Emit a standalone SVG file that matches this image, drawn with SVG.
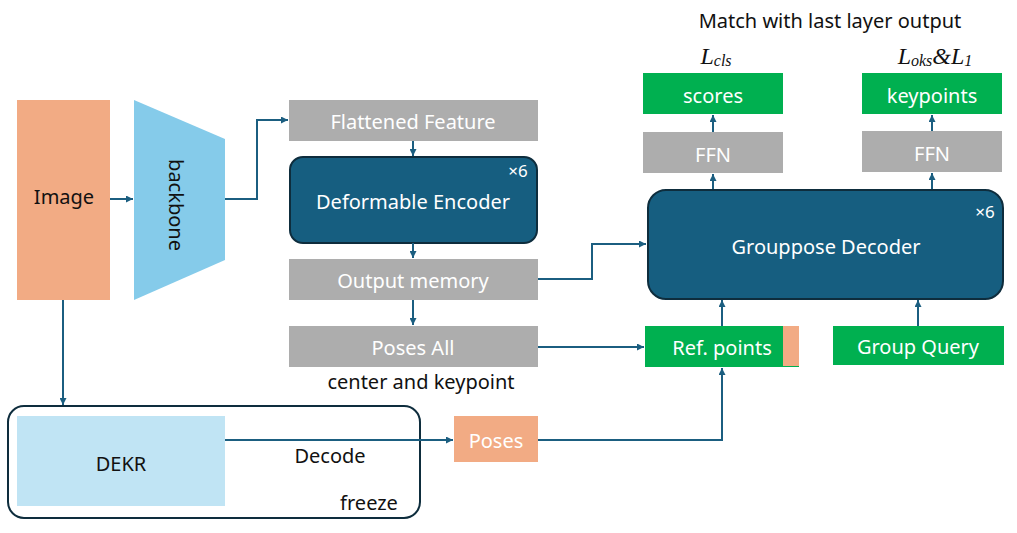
<svg xmlns="http://www.w3.org/2000/svg" width="1017" height="533" viewBox="0 0 1017 533">
<defs>
<marker id="ah" viewBox="0 0 10 10" refX="10" refY="5" markerWidth="7" markerHeight="7" markerUnits="userSpaceOnUse" orient="auto"><path d="M0,0 L10,5 L0,10 z" fill="#1B5E80"/></marker>
<style>
text{font-family:"Noto Sans","Open Sans","DejaVu Sans",sans-serif;font-size:20px;text-anchor:middle;dominant-baseline:central}
.w{fill:#fff}
.k{fill:#111}
.gray{fill:#ADADAD}
.green{fill:#00B050}
.salmon{fill:#F2AB84}
.dark{fill:#165E80;stroke:#0E2D3D;stroke-width:2}
.math{font-family:"Liberation Serif","DejaVu Serif",serif;font-style:italic;font-size:24px}
.sub{font-size:16px}
.conn path{fill:none;stroke:#1B5E80;stroke-width:2;marker-end:url(#ah)}
</style>
</defs>
<rect width="1017" height="533" fill="#fff"/>

<g id="image"><rect class="salmon" x="17" y="100" width="93" height="200"/><text class="k" x="64" y="196">Image</text></g>
<g id="backbone"><polygon points="134,100 225,139 225,260 134,300" fill="#85CBEA"/><text class="k" transform="translate(176,205) rotate(90)">backbone</text></g>

<g id="flattened"><rect class="gray" x="289" y="100" width="249" height="41"/><text class="w" x="413" y="121">Flattened Feature</text></g>
<g id="encoder"><rect class="dark" x="290" y="157" width="247" height="86" rx="13"/><text class="w" x="413" y="201">Deformable Encoder</text><text class="w" x="518" y="170" style="font-size:17px">×6</text></g>
<g id="memory"><rect class="gray" x="289" y="259" width="249" height="41"/><text class="w" x="413" y="280">Output memory</text></g>
<g id="posesall"><rect class="gray" x="289" y="326" width="249" height="41"/><text class="w" x="413" y="347">Poses All</text><text class="k" x="421" y="381">center and keypoint</text></g>

<g id="freeze"><rect x="8" y="406" width="412" height="112" rx="16" fill="none" stroke="#0E2D3D" stroke-width="2"/><text class="k" x="369" y="502">freeze</text></g>
<g id="dekr"><rect x="17" y="416" width="208" height="90" fill="#C0E4F4"/><text class="k" x="121" y="463">DEKR</text></g>
<g id="poses"><rect class="salmon" x="454" y="416" width="84" height="46"/><text class="w" x="496" y="440">Poses</text></g>

<g id="refpoints"><rect class="green" x="645" y="326" width="154" height="41"/><rect class="salmon" x="783" y="326" width="16" height="40"/><text class="w" x="722" y="347">Ref. points</text></g>
<g id="groupquery"><rect class="green" x="833" y="326" width="171" height="39"/><text class="w" x="918" y="346">Group Query</text></g>
<g id="decoder"><rect class="dark" x="648" y="190" width="355" height="109" rx="18"/><text class="w" x="826" y="246">Grouppose Decoder</text><text class="w" x="985" y="211" style="font-size:17px">×6</text></g>

<g id="ffn1"><rect class="gray" x="643" y="132" width="140" height="41"/><text class="w" x="713" y="154">FFN</text></g>
<g id="ffn2"><rect class="gray" x="862" y="131" width="140" height="41"/><text class="w" x="932" y="153">FFN</text></g>
<g id="scores"><rect class="green" x="643" y="73" width="140" height="41"/><text class="w" x="713" y="95">scores</text></g>
<g id="keypoints"><rect class="green" x="862" y="73" width="140" height="41"/><text class="w" x="932" y="95">keypoints</text></g>

<g id="labels">
<text class="k" x="830" y="20">Match with last layer output</text>
<text class="math k" x="716" y="56">L<tspan class="sub" dy="4">cls</tspan></text>
<text class="math k" x="935" y="56">L<tspan class="sub" dy="4">oks</tspan><tspan dy="-4">&amp;L</tspan><tspan class="sub" dy="4">1</tspan></text>
<text class="k" x="330" y="455">Decode</text>
</g>

<g class="conn" id="connectors">
<path d="M110,199 H133"/>
<path d="M225,199 H257 V120 H288"/>
<path d="M413,141 V156"/>
<path d="M413,243 V258"/>
<path d="M413,300 V325"/>
<path d="M538,279 H592 V244 H646"/>
<path d="M538,347 H644"/>
<path d="M63,300 V405"/>
<path d="M225,440 H453"/>
<path d="M538,440 H722 V368"/>
<path d="M722,326 V300"/>
<path d="M918,326 V300"/>
<path d="M713,189 V174"/>
<path d="M932,189 V173"/>
<path d="M713,132 V115"/>
<path d="M932,131 V115"/>
</g>
</svg>
